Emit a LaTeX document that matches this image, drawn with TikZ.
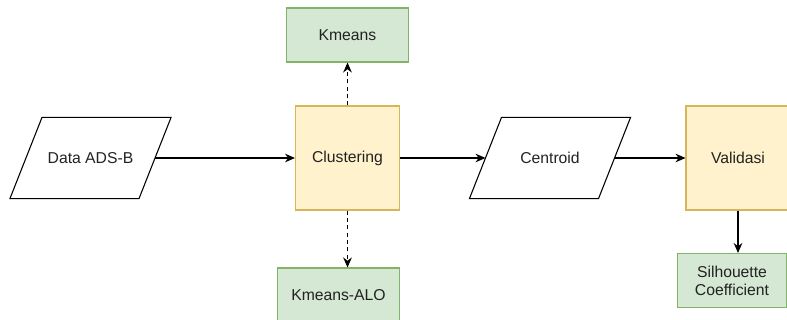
\documentclass[tikz,border=0pt]{standalone}
\usepackage{fontspec}
\setmainfont{Liberation Sans}
\usepackage{tikz}
\usetikzlibrary{arrows.meta}

\definecolor{procfill}{HTML}{FFF2CC}
\definecolor{procline}{HTML}{D6B656}
\definecolor{algfill}{HTML}{D5E8D4}
\definecolor{algline}{HTML}{82B366}
\definecolor{txt}{HTML}{222222}

% slanted data box drawn round a plain node
\newcommand{\ioframe}[1]{%
	\draw ([xshift=-12pt]#1.south west) -- ([xshift=12pt]#1.north west)
		-- ([xshift=12pt]#1.north east) -- ([xshift=-12pt]#1.south east) -- cycle;}

\begin{document}
\begin{tikzpicture}[x=0.75pt,y=-0.75pt,
	font=\fontsize{11.8}{13.5}\selectfont, text=txt, line width=0.8pt,
	io/.style={rectangle, minimum width=96pt, minimum height=60pt, inner sep=0pt},
	proc/.style={rectangle, draw=procline, fill=procfill, minimum width=78pt, minimum height=78pt},
	alg/.style={rectangle, draw=algline, fill=algfill, minimum width=92pt, minimum height=40.5pt, align=center},
	flow/.style={-{Stealth[length=7.5pt,width=6.5pt]}},
	opt/.style={flow, dash pattern=on 3pt off 2.5pt}]
	\useasboundingbox (0,0) rectangle (787,320);

	\node[io] (data) at (90.5, 158)    {Data ADS-B};
	\node[proc] (clust) at (347.5, 158) {Clustering};
	\node[io] (cent) at (550, 158)     {Centroid};
	\node[proc] (valid) at (738, 158)  {Validasi};
	\node[alg] (km) at (347.5, 35)     {Kmeans};
	\node[alg] (kmalo) at (338.5, 295) {Kmeans-ALO};
	\node[alg, minimum width=82pt] (sil) at (732, 280.5) {Silhouette\\Coefficient};

	\ioframe{data}
	\ioframe{cent}

	\coordinate (alotop) at (clust.south |- kmalo.north);
	\coordinate (siltop) at (valid.south |- sil.north);

	\path[flow] (data) edge (clust);
	\path[flow] (clust) edge (cent);
	\path[flow] (cent) edge (valid);
	\path[opt] (clust) edge (km);
	\path[opt] (clust.south) edge (alotop);
	\path[flow] (valid.south) edge (siltop);
\end{tikzpicture}
\end{document}
